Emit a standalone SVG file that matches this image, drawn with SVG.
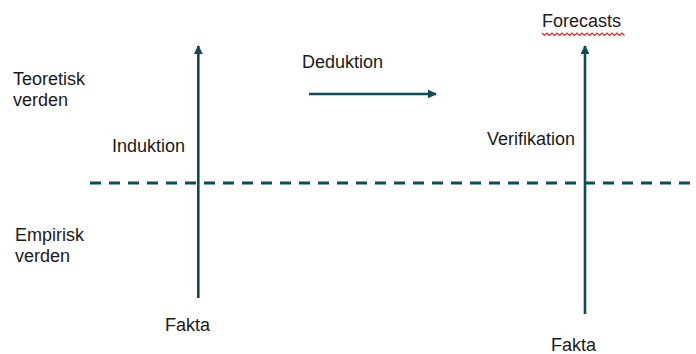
<svg xmlns="http://www.w3.org/2000/svg" width="696" height="354" viewBox="0 0 696 354">
<style>
text{font-family:"Liberation Sans",Arial,sans-serif;font-size:18px;fill:#1a1a1a}
.ln{stroke:#0d4c58;stroke-width:2.6;fill:none}
.dash{stroke:#0d4c58;stroke-width:3;stroke-dasharray:11 8;fill:none}
</style>
<defs>
<marker id="ah" viewBox="0 0 10 10" refX="9" refY="5" markerWidth="3.4" markerHeight="3.4" orient="auto" markerUnits="strokeWidth">
<path d="M0,0 L10,5 L0,10 Z" fill="#0d4c58"/>
</marker>
</defs>
<rect width="696" height="354" fill="#fff"/>
<g id="connectors">
<line class="dash" x1="90" y1="183" x2="696" y2="183"/>
<line id="induktion-arrow" class="ln" x1="198.3" y1="298" x2="198.3" y2="46" marker-end="url(#ah)"/>
<line id="verifikation-arrow" class="ln" x1="585" y1="314" x2="585" y2="46" marker-end="url(#ah)"/>
<line id="deduktion-arrow" class="ln" x1="309" y1="94" x2="436" y2="94" marker-end="url(#ah)"/>
</g>
<g id="teoretisk"><text x="13" y="85">Teoretisk</text><text x="13" y="106">verden</text></g>
<g id="empirisk"><text x="15" y="241">Empirisk</text><text x="15" y="262">verden</text></g>
<g id="induktion"><text x="112" y="152">Induktion</text></g>
<g id="deduktion"><text x="302" y="68">Deduktion</text></g>
<g id="verifikation"><text x="487" y="145">Verifikation</text></g>
<g id="forecasts"><text x="542" y="27">Forecasts</text>
<path d="M542,33 l2.5,2.5 2.5,-2.5 2.5,2.5 2.5,-2.5 2.5,2.5 2.5,-2.5 2.5,2.5 2.5,-2.5 2.5,2.5 2.5,-2.5 2.5,2.5 2.5,-2.5 2.5,2.5 2.5,-2.5 2.5,2.5 2.5,-2.5 2.5,2.5 2.5,-2.5 2.5,2.5 2.5,-2.5 2.5,2.5 2.5,-2.5 2.5,2.5 2.5,-2.5 2.5,2.5 2.5,-2.5 2.5,2.5 2.5,-2.5 2.5,2.5 2.5,-2.5 2.5,2.5 2.5,-2.5 2.5,2.5" stroke="#e8262a" stroke-width="1.2" fill="none"/>
</g>
<g id="fakta-left"><text x="165" y="331">Fakta</text></g>
<g id="fakta-right"><text x="551" y="351">Fakta</text></g>
</svg>
